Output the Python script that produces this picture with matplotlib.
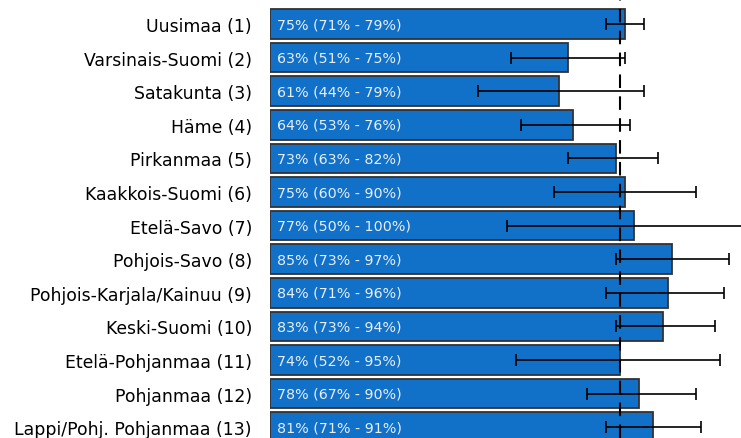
import matplotlib.pyplot as plt

# Data
regions = ['Uusimaa (1)', 'Varsinais-Suomi (2)', 'Satakunta (3)', 'Häme (4)',
           'Pirkanmaa (5)', 'Kaakkois-Suomi (6)', 'Etelä-Savo (7)', 'Pohjois-Savo (8)',
           'Pohjois-Karjala/Kainuu (9)', 'Keski-Suomi (10)', 'Etelä-Pohjanmaa (11)',
           'Pohjanmaa (12)', 'Lappi/Pohj. Pohjanmaa (13)']
values = [75, 63, 61, 64, 73, 75, 77, 85, 84, 83, 74, 78, 81]
lower = [71, 51, 44, 53, 63, 60, 50, 73, 71, 73, 52, 67, 71]
upper = [79, 75, 79, 76, 82, 90, 100, 97, 96, 94, 95, 90, 91]
national = 74

BAR_COLOR = '#1170c8'
EDGE_COLOR = '#333333'

fig = plt.figure(figsize=(7.41, 4.39), dpi=100)
ax = fig.add_axes([270 / 741, 0, 471 / 741, 1])

y = list(range(len(regions)))
ax.barh(y, values, height=0.88, color=BAR_COLOR, edgecolor=EDGE_COLOR, linewidth=1.3, zorder=2)

xerr = [[v - lo for v, lo in zip(values, lower)], [hi - v for v, hi in zip(values, upper)]]
ax.errorbar(values, y, xerr=xerr, fmt='none', ecolor='black', elinewidth=1.2,
            capsize=4, capthick=1.2, zorder=4)

ax.axvline(national, color='black', linestyle=(0, (6.5, 4)), linewidth=1.5, zorder=3)

for i, (v, lo, hi) in enumerate(zip(values, lower, upper)):
    ax.text(1.5, i, f'{v}% ({lo}% - {hi}%)', color='#e6eef8', fontsize=10.3,
            va='center', ha='left', zorder=5)

ax.set_yticks(y)
ax.set_yticklabels(regions, fontsize=12.4)
ax.tick_params(axis='y', length=0, pad=13)
ax.set_xticks([])
ax.set_xlim(0, 99.5)
ax.set_ylim(12.32, -0.744)
for s in ax.spines.values():
    s.set_visible(False)

plt.savefig('out.png', dpi=100)
